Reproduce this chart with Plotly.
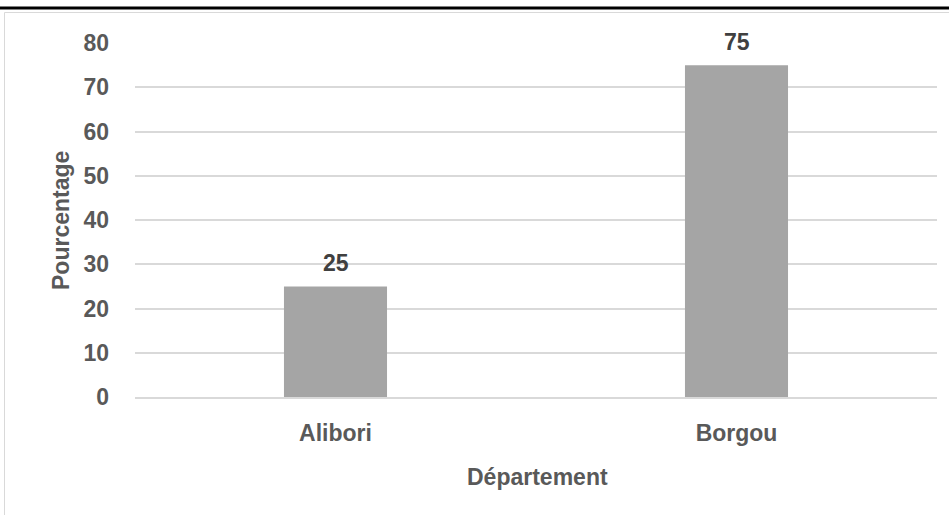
import plotly.graph_objects as go

# Data
departements = ["Alibori", "Borgou"]
pourcentages = [25, 75]
y_ticks = [0, 10, 20, 30, 40, 50, 60, 70, 80]

FONT = "Liberation Sans, Arial, sans-serif"
FS = 23
W, H = 949, 515
L, R, T, B = 135, 12, 43, 118
pw, ph = W - L - R, H - T - B


def px_to_paper_x(x):
    return (x - L) / pw


def px_to_paper_y(y):
    return (H - B - y) / ph


label_font = dict(family=FONT, size=FS, color="#595959", weight="bold")

fig = go.Figure()
fig.add_trace(go.Bar(
    x=departements,
    y=pourcentages,
    width=0.257,
    marker=dict(color="#A5A5A5", line=dict(width=0)),
    hoverinfo="x+y",
))

# value labels above the bars
for d, v in zip(departements, pourcentages):
    fig.add_annotation(
        x=d, y=v, text=str(v), showarrow=False,
        yanchor="bottom", yshift=8,
        font=dict(family=FONT, size=FS, color="#404040", weight="bold"),
    )

# axis titles
fig.add_annotation(
    xref="paper", yref="paper", x=px_to_paper_x(61), y=px_to_paper_y(221),
    text="Pourcentage", textangle=-90, showarrow=False,
    xanchor="center", yanchor="middle", font=label_font,
)
fig.add_annotation(
    xref="paper", yref="paper", x=px_to_paper_x(537), y=px_to_paper_y(477),
    text="Département", showarrow=False,
    xanchor="center", yanchor="middle", font=label_font,
)

shapes = [
    # thick rule above the chart frame
    dict(type="line", xref="paper", yref="paper",
         x0=px_to_paper_x(-5), x1=px_to_paper_x(W + 5),
         y0=px_to_paper_y(8), y1=px_to_paper_y(8),
         line=dict(color="black", width=3)),
    # chart frame
    dict(type="rect", xref="paper", yref="paper",
         x0=px_to_paper_x(4.5), x1=px_to_paper_x(W + 10),
         y0=px_to_paper_y(H + 10), y1=px_to_paper_y(12.5),
         line=dict(color="#D9D9D9", width=1), fillcolor="rgba(0,0,0,0)",
         layer="below"),
]

fig.update_layout(
    width=W, height=H,
    margin=dict(l=L, r=R, t=T, b=B, pad=0),
    paper_bgcolor="white", plot_bgcolor="white",
    showlegend=False,
    shapes=shapes,
    font=dict(family=FONT, color="#595959"),
    xaxis=dict(
        tickfont=label_font,
        showgrid=False, showline=True, linecolor="#D9D9D9", linewidth=1.5,
        ticks="", ticklen=0, ticklabelstandoff=15,
        range=[-0.5, 1.5],
    ),
    yaxis=dict(
        tickfont=label_font,
        tickvals=y_ticks,
        range=[0, 80],
        showgrid=True, gridcolor="#D9D9D9", gridwidth=1.5,
        zeroline=False, showline=False, ticks="", ticklabelstandoff=25,
    ),
)

fig.write_html("out.html")
